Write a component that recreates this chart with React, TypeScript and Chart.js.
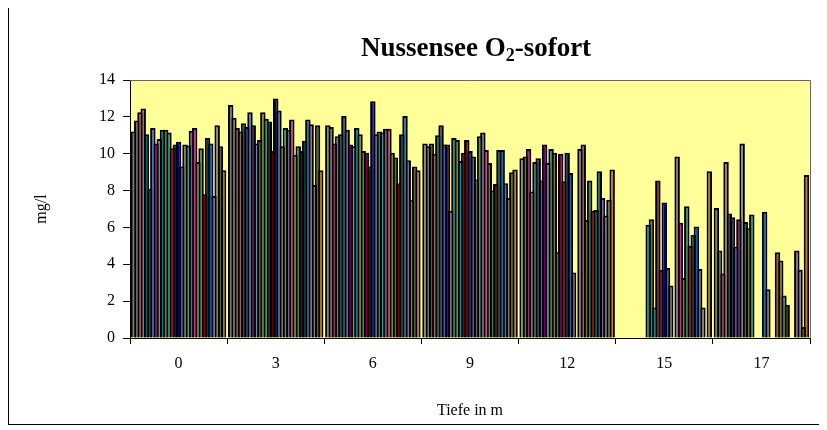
import React, { useEffect, useRef } from 'react';
import { Chart, registerables } from 'chart.js';

Chart.register(...registerables);

const depths = ['0', '3', '6', '9', '12', '15', '17'];

const depth0 = [11.2, 11.8, 12.25, 12.45, 11.05, 8.1, 11.4, 10.55, 10.8, 11.3, 11.3, 11.15, 10.3, 10.5, 10.65, 9.3, 10.5, 10.45, 11.25, 11.4, 9.55, 10.3, 7.8, 10.85, 10.55, 7.7, 11.55, 10.4, 9.1];
const depth3 = [12.65, 11.95, 11.4, 11.2, 11.65, 11.45, 12.25, 11.55, 10.55, 10.75, 12.25, 11.9, 11.75, 10.15, 13.0, 12.35, 10.4, 11.4, 11.3, 11.85, 9.95, 10.4, 10.15, 10.7, 11.85, 11.6, 8.3, 11.55, 9.1];
const depth6 = [11.55, 11.45, 10.55, 10.95, 11.05, 12.05, 11.3, 10.5, 10.4, 11.4, 11.05, 10.15, 10.05, 9.3, 12.85, 11.05, 11.2, 11.15, 11.35, 11.35, 10.05, 9.8, 8.4, 11.05, 12.05, 9.65, 7.5, 9.3, 9.1];
const depth9 = [10.55, 10.4, 10.55, 10.0, 11.0, 11.55, 10.5, 10.5, 6.9, 10.85, 10.75, 9.6, 10.05, 10.75, 10.15, 9.85, 8.6, 10.95, 11.15, 10.2, 9.5, 8.0, 8.35, 10.2, 10.2, 8.4, 7.6, 9.0, 9.15];
const depth12 = [9.75, 9.85, 10.25, 7.95, 9.55, 9.75, 8.55, 10.5, 9.5, 10.25, 10.05, 4.65, 10.0, 8.5, 10.05, 8.95, 3.55, null, 10.25, 10.5, 6.4, 8.55, 6.9, 6.95, 9.05, 7.6, 6.65, 7.5, 9.15];
const depth15 = [null, null, null, null, null, null, null, null, null, 6.15, 6.45, 1.65, 8.55, 3.7, 7.35, 3.8, 2.85, null, 9.85, 6.25, 3.25, 7.15, 5.0, 5.6, 6.05, 3.75, 1.65, null, 9.05];
const depth17 = [7.05, 4.75, 3.5, 9.55, 6.75, 6.55, 4.95, 6.45, 10.55, 6.3, 5.95, 6.7, null, null, null, 6.85, 2.65, null, null, 4.65, 4.2, 2.3, 1.8, null, null, 4.75, 3.7, 0.6, 8.85];

const seriesColors = ['#808060', '#607080', '#993366', '#996666', '#006666', '#333366', '#3366CC', '#660066', '#8080A0', '#008080', '#808000', '#009999', '#800040', '#600000', '#000099', '#336699', '#666666', '#339999', '#806080', '#CC3399', '#808000', '#338060', '#800000', '#004040', '#0060C0', '#8060A0', '#808080', '#606030', '#C07800'];

const yMin = 0;
const yMax = 14;
const yStep = 2;

const titleMain = 'Nussensee O';
const titleSub = '2';
const titleRest = '-sofort';
const yTitle = 'mg/l';
const xTitle = 'Tiefe in m';

const FONT = "'Liberation Serif', 'Times New Roman', serif";

export default function App() {
  const ref = useRef<HTMLCanvasElement>(null);

  useEffect(() => {
    if (!ref.current) return;
    const byDepth = [depth0, depth3, depth6, depth9, depth12, depth15, depth17];
    const datasets = seriesColors.map((c, s) => ({
      label: 'Serie ' + (s + 1),
      data: byDepth.map((arr) => arr[s]),
      backgroundColor: c,
      borderColor: '#000000',
      borderWidth: { top: 2, left: 2, right: 2, bottom: 0 },
      borderSkipped: 'start' as const,
      categoryPercentage: 0.96,
      barPercentage: 1.7,
    }));

    const decor = {
      id: 'decor',
      beforeDraw(chart: any) {
        const { ctx, chartArea: a } = chart;
        ctx.save();
        ctx.fillStyle = '#FFFF99';
        ctx.fillRect(a.left, a.top, a.right - a.left, a.bottom - a.top);
        ctx.restore();
      },
      afterDraw(chart: any) {
        const { ctx, chartArea: a } = chart;
        ctx.save();
        ctx.strokeStyle = '#666666';
        ctx.lineWidth = 1;
        ctx.beginPath();
        ctx.moveTo(a.left, a.top + 0.5);
        ctx.lineTo(a.right + 0.5, a.top + 0.5);
        ctx.lineTo(a.right + 0.5, a.bottom);
        ctx.stroke();

        ctx.fillStyle = '#000';
        ctx.textBaseline = 'alphabetic';
        const big = 'bold 27px ' + FONT;
        const small = 'bold 18px ' + FONT;
        ctx.font = big;
        const w1 = ctx.measureText(titleMain).width;
        const w3 = ctx.measureText(titleRest).width;
        ctx.font = small;
        const w2 = ctx.measureText(titleSub).width;
        const total = w1 + w2 + w3;
        const cx = (a.left + a.right) / 2 + 6;
        let x = cx - total / 2;
        const base = 48;
        ctx.textAlign = 'left';
        ctx.font = big;
        ctx.fillText(titleMain, x, base);
        x += w1;
        ctx.font = small;
        ctx.fillText(titleSub, x, base + 5);
        x += w2;
        ctx.font = big;
        ctx.fillText(titleRest, x, base);

        ctx.font = '16px ' + FONT;
        ctx.textAlign = 'center';
        ctx.textBaseline = 'middle';
        ctx.fillText(xTitle, (a.left + a.right) / 2, 403);
        ctx.translate(33, (a.top + a.bottom) / 2);
        ctx.rotate(-Math.PI / 2);
        ctx.fillText(yTitle, 0, 0);
        ctx.restore();
      },
    };

    const chart = new Chart(ref.current, {
      type: 'bar',
      data: { labels: depths, datasets: datasets as any },
      options: {
        animation: false,
        responsive: false,
        maintainAspectRatio: false,
        layout: { padding: { top: 72, right: 16, left: 0, bottom: 0 } },
        plugins: { legend: { display: false }, tooltip: { enabled: false }, title: { display: false } },
        scales: {
          x: {
            afterFit: (s: any) => { s.height = 86; },
            grid: { offset: true, drawOnChartArea: false, drawTicks: true, tickLength: 6, color: '#000' },
            border: { color: '#000', width: 1 },
            ticks: { color: '#000', font: { family: FONT, size: 16 }, padding: 10, maxRotation: 0, autoSkip: false },
          },
          y: {
            min: yMin,
            max: yMax,
            afterFit: (s: any) => { s.width = 121; },
            grid: { drawOnChartArea: false, drawTicks: true, tickLength: 7, color: '#000' },
            border: { color: '#000', width: 1 },
            ticks: { stepSize: yStep, color: '#000', font: { family: FONT, size: 16 }, padding: 8 },
          },
        },
      },
      plugins: [decor],
    });
    return () => chart.destroy();
  }, []);

  return (
    <div style={{ width: 817, height: 416, borderLeft: '1px solid #000', borderBottom: '1px solid #000', background: '#fff' }}>
      <canvas ref={ref} width={817} height={416} style={{ display: 'block' }} />
    </div>
  );
}
